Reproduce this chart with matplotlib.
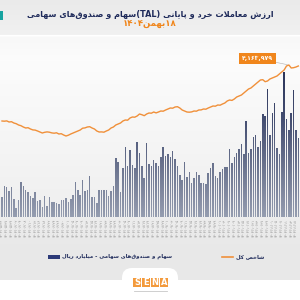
import matplotlib
matplotlib.use('Agg')
import matplotlib.pyplot as plt
import numpy as np
from matplotlib.colors import LinearSegmentedColormap
from matplotlib.path import Path
from matplotlib.patches import PathPatch, Rectangle, FancyBboxPatch

# ---- data ----
title = 'ارزش معاملات خرد و پایانی (TAL)سهام و صندوق‌های سهامی'
subtitle = '۱۸بهمن۱۴۰۴'
legend_bar = 'سهام و صندوق‌های سهامی - میلیارد ریال'
legend_line = 'شاخص کل'

# daily retail value of trades, thousand billion rial (approx.)
trade_value = [20, 31, 30, 26, 30, 18, 9, 17, 35, 31, 27, 25, 21, 19, 25, 16, 17, 10, 21, 11,
               20, 15, 15, 14, 13, 17, 17, 19, 15, 18, 22, 35, 27, 22, 37, 26, 27, 41, 20, 20,
               14, 27, 27, 27, 27, 21, 26, 31, 59, 55, 25, 49, 70, 51, 67, 52, 49, 75, 64, 51,
               39, 74, 53, 51, 57, 54, 51, 60, 70, 61, 63, 60, 66, 58, 51, 42, 37, 55, 40, 45,
               34, 39, 45, 42, 34, 34, 33, 44, 49, 54, 41, 39, 45, 48, 50, 50, 68, 54, 60, 64,
               68, 73, 63, 96, 64, 68, 80, 82, 70, 76, 103, 101, 128, 82, 104, 114, 69, 63, 105, 145,
               98, 87, 104, 127, 87, 79]

# TEDPIX, thousand points (approx.)
index_value = [3044, 3040, 3046, 3024, 3030, 3004, 2990, 2964, 2950, 2924,
               2904, 2910, 2884, 2866, 2862, 2844, 2824, 2804, 2818, 2826,
               2820, 2806, 2800, 2808, 2784, 2790, 2764, 2744, 2760, 2784,
               2804, 2824, 2844, 2864, 2900, 2906, 2924, 2930, 2904, 2884,
               2844, 2824, 2826, 2820, 2844, 2864, 2904, 2924, 2964, 2984,
               3004, 3044, 3064, 3060, 3104, 3124, 3120, 3144, 3184, 3170,
               3150, 3184, 3204, 3200, 3224, 3206, 3224, 3244, 3240, 3264,
               3284, 3304, 3300, 3324, 3330, 3304, 3264, 3244, 3224, 3220,
               3226, 3244, 3240, 3264, 3266, 3284, 3280, 3304, 3324, 3344,
               3340, 3364, 3360, 3384, 3404, 3444, 3464, 3456, 3484, 3524,
               3544, 3564, 3604, 3644, 3684, 3704, 3744, 3784, 3824, 3864,
               3870, 3830, 3844, 3884, 3904, 3924, 3944, 3984, 4024, 4064,
               4144, 4163.979, 4104, 4110, 4124, 4144]

tick_labels = ['1404/05/24', '1404/05/27', '1404/05/29', '1404/06/02', '1404/06/04', '1404/06/08',
               '1404/06/10', '1404/06/12', '1404/06/16', '1404/06/18', '1404/06/22', '1404/06/24',
               '1404/06/26', '1404/06/30', '1404/07/01', '1404/07/05', '1404/07/07', '1404/07/09',
               '1404/07/13', '1404/07/15', '1404/07/19', '1404/07/21', '1404/07/23', '1404/07/27',
               '1404/07/29', '1404/08/03', '1404/08/05', '1404/08/07', '1404/08/11', '1404/08/13',
               '1404/08/17', '1404/08/19', '1404/08/21', '1404/08/25', '1404/08/27', '1404/09/01',
               '1404/09/03', '1404/09/05', '1404/09/09', '1404/09/11', '1404/09/15', '1404/09/17',
               '1404/09/19', '1404/09/23', '1404/09/25', '1404/09/29', '1404/10/01', '1404/10/03',
               '1404/10/07', '1404/10/09', '1404/10/13', '1404/10/15', '1404/10/17', '1404/10/21',
               '1404/10/23', '1404/10/27', '1404/10/29', '1404/11/01', '1404/11/05', '1404/11/07',
               '1404/11/11', '1404/11/13', '1404/11/18']

NAVY = '#1e2a5a'
ORANGE = '#f0903a'

# ---- minimal arabic shaping + bidi, matplotlib does neither ----
FORMS4 = {'ب': 0xFE8F, 'ت': 0xFE95, 'ث': 0xFE99, 'ج': 0xFE9D, 'ح': 0xFEA1, 'خ': 0xFEA5,
          'س': 0xFEB1, 'ش': 0xFEB5, 'ص': 0xFEB9, 'ض': 0xFEBD, 'ط': 0xFEC1, 'ظ': 0xFEC5,
          'ع': 0xFEC9, 'غ': 0xFECD, 'ف': 0xFED1, 'ق': 0xFED5, 'ل': 0xFEDD, 'م': 0xFEE1,
          'ن': 0xFEE5, 'ه': 0xFEE9, 'پ': 0xFB56, 'چ': 0xFB7A, 'ک': 0xFB8E, 'گ': 0xFB92,
          'ی': 0xFBFC}
FORMS2 = {'ا': 0xFE8D, 'آ': 0xFE81, 'د': 0xFEA9, 'ذ': 0xFEAB, 'ر': 0xFEAD, 'ز': 0xFEAF,
          'ژ': 0xFB8A, 'و': 0xFEED}
MIRROR = {'(': ')', ')': '('}
FA_DIGITS = str.maketrans('0123456789', '۰۱۲۳۴۵۶۷۸۹')


def shape(text):
    out = []
    i = 0
    n = len(text)
    while i < n:
        c = text[i]
        prev = text[i - 1] if i > 0 else ''
        joined_prev = prev in FORMS4 and (c in FORMS4 or c in FORMS2)
        if c == 'ل' and i + 1 < n and text[i + 1] == 'ا':
            out.append('\uFEFC' if joined_prev else '\uFEFB')
            i += 2
            continue
        if c in FORMS4:
            nxt = text[i + 1] if i + 1 < n else ''
            joined_next = nxt in FORMS4 or nxt in FORMS2
            k = {(False, False): 0, (True, False): 1, (False, True): 2, (True, True): 3}[(joined_prev, joined_next)]
            out.append(chr(FORMS4[c] + k))
        elif c in FORMS2:
            out.append(chr(FORMS2[c] + (1 if joined_prev else 0)))
        else:
            out.append(c)
        i += 1
    return ''.join(out).replace('\u200c', '')


def rtl(text):
    s = shape(text)
    kinds = []
    for c in s:
        if (c.isascii() and c.isalnum()) or '\u06f0' <= c <= '\u06f9':
            kinds.append('L')
        elif '\u0600' <= c <= '\u06ff' or '\ufb50' <= c <= '\ufeff':
            kinds.append('R')
        else:
            kinds.append('N')
    levels = []
    for i, k in enumerate(kinds):
        if k == 'N':
            before = next((kinds[j] for j in range(i - 1, -1, -1) if kinds[j] != 'N'), 'R')
            after = next((kinds[j] for j in range(i + 1, len(kinds)) if kinds[j] != 'N'), 'R')
            k = 'L' if before == after == 'L' else 'R'
        levels.append(k)
    runs = []
    for c, k in zip(s, levels):
        if runs and runs[-1][0] == k:
            runs[-1][1].append(c)
        else:
            runs.append([k, [c]])
    out = ''
    for k, chars in reversed(runs):
        if k == 'L':
            out += ''.join(chars)
        else:
            out += ''.join(MIRROR.get(c, c) for c in reversed(chars))
    return out


plt.rcParams['font.family'] = ['DejaVu Sans']

fig = plt.figure(figsize=(3, 3), dpi=100)

# ---- background ----
bg = fig.add_axes([0, 0, 1, 1], zorder=0)
rows = np.arange(300)
grey = np.interp(rows, [0, 34, 35, 37, 60, 200, 250, 279, 280, 300],
                 [234, 241, 255, 248, 252, 240, 232, 232, 255, 255]) / 255
img = np.repeat(grey[:, None], 300, axis=1)
bg.imshow(np.dstack([img, img, img]), extent=[0, 300, 300, 0], aspect='auto')
bg.add_patch(FancyBboxPatch((122, 268), 56, 30, boxstyle='round,pad=0,rounding_size=10',
                            facecolor='white', edgecolor='none'))
bg.add_patch(Rectangle((0, 11), 2.5, 9, facecolor='#17a3a0', edgecolor='none'))
bg.set_xlim(0, 300)
bg.set_ylim(300, 0)
bg.axis('off')

# ---- chart ----
x = np.arange(len(trade_value))
xlo, xhi = -0.84, 125.7
ax = fig.add_axes([0, 83 / 300, 1, 177 / 300], zorder=1)
ax.patch.set_alpha(0)
bars = ax.bar(x, trade_value, width=0.64, color='none', edgecolor='none')
clip = Path.make_compound_path(*[b.get_patch_transform().transform_path(b.get_path()) for b in bars])
clip_patch = PathPatch(clip, transform=ax.transData, facecolor='none', edgecolor='none')
ax.add_patch(clip_patch)
bar_cmap = LinearSegmentedColormap.from_list('bars', ['#959db0', '#6b748f', '#424c70', '#2b3459'])
grad = np.linspace(0, 1, 256).reshape(-1, 1)
ax.imshow(grad, extent=[xlo, xhi, 0, 150], origin='lower', aspect='auto', cmap=bar_cmap,
          clip_path=clip_patch, zorder=2)
ax.set_xlim(xlo, xhi)
ax.set_ylim(0, 177)
for sp in ax.spines.values():
    sp.set_visible(False)
ax.set_yticks([])
ax.set_xticks(x[::2])
ax.set_xticklabels([t.translate(FA_DIGITS) for t in tick_labels], rotation=90,
                   fontsize=2.6, color='#8e8e8e')
ax.tick_params(axis='x', length=0, pad=1.5)

ax2 = ax.twinx()
ax2.set_zorder(2)
ax2.patch.set_alpha(0)
ax2.plot(x, index_value, color=ORANGE, lw=1.0, solid_joinstyle='round')
ax2.set_ylim(1124, 4664)
ax2.set_xlim(xlo, xhi)
ax2.axis('off')

peak = int(np.argmax(index_value))
peak_txt = f'{int(round(index_value[peak] * 1000)):,}'.translate(FA_DIGITS)
ax2.annotate(peak_txt, xy=(x[peak], index_value[peak]), xytext=(257.5, 241.5),
             textcoords='figure pixels', ha='center', va='center', fontsize=4.4,
             fontweight='bold', color='white',
             bbox=dict(boxstyle='square,pad=0.5', facecolor='#f0861c', edgecolor='none'),
             arrowprops=dict(arrowstyle='-', color='#b0b0b0', lw=0.4, shrinkA=0, shrinkB=1))

# ---- texts, legend, logo ----
ov = fig.add_axes([0, 0, 1, 1], zorder=3)
ov.patch.set_alpha(0)
ov.set_xlim(0, 300)
ov.set_ylim(300, 0)
ov.axis('off')
ov.text(150, 14, rtl(title), ha='center', va='center', fontsize=5.9, fontweight='bold', color=NAVY)
ov.text(150, 24.5, rtl(subtitle), ha='center', va='center', fontsize=6.2, fontweight='bold', color='#f0861c')

ov.plot([222, 233], [256.5, 256.5], color=ORANGE, lw=1.2)
ov.text(236, 256.5, rtl(legend_line), ha='left', va='center', fontsize=3.9, fontweight='bold', color=NAVY)
ov.add_patch(Rectangle((48, 254.5), 12, 4, facecolor='#2c3a78', edgecolor='none'))
ov.text(62, 256.5, rtl(legend_bar), ha='left', va='center', fontsize=3.9, fontweight='bold', color=NAVY)

for i, letter in enumerate('SENA'):
    ov.add_patch(Rectangle((133 + i * 9, 278), 8, 9, facecolor='#f39a3c', edgecolor='none'))
    ov.text(137 + i * 9, 282.8, letter, ha='center', va='center', fontsize=6, fontweight='bold', color='white')
ov.plot([134, 167], [291, 291], color='#c8c8c8', lw=0.6)

fig.savefig('out.png', dpi=100)
